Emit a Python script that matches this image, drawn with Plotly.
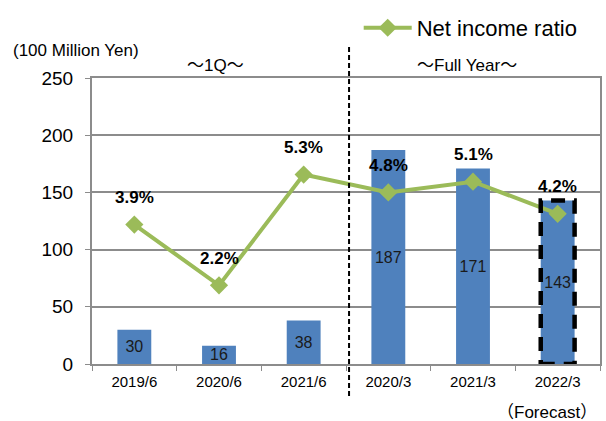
import plotly.graph_objects as go

categories = ["2019/6", "2020/6", "2021/6", "2020/3", "2021/3", "2022/3"]
net_income = [30, 16, 38, 187, 171, 143]
ratio = [3.9, 2.2, 5.3, 4.8, 5.1, 4.2]
ratio_labels = ["3.9%", "2.2%", "5.3%", "4.8%", "5.1%", "4.2%"]
y_ticks = [0, 50, 100, 150, 200, 250]

FONT = "Arial, Liberation Sans, sans-serif"
CJK = "Noto Sans CJK JP"
BAR = "#4F81BD"
GREEN = "#9BBB59"
GRID = "#8C8C8C"

def wave(s):
    return '<span style="font-family:%s">%s</span>' % (CJK, s)

fig = go.Figure()
fig.add_trace(go.Bar(
    x=categories, y=net_income, marker=dict(color=BAR, line=dict(width=0)),
    width=0.4, text=[str(v) for v in net_income], textposition="inside",
    insidetextanchor="middle", textangle=0, constraintext="none",
    textfont=dict(family=FONT, size=16, color="#1a1a1a"),
    showlegend=False, cliponaxis=False, hoverinfo="skip",
))
fig.add_trace(go.Scatter(
    x=categories, y=ratio, yaxis="y2", mode="lines+markers",
    line=dict(color=GREEN, width=4), marker=dict(symbol="diamond", size=14, color=GREEN),
    name="Net income ratio", hoverinfo="skip",
))
for c, r, lab in zip(categories, ratio, ratio_labels):
    fig.add_annotation(x=c, y=r, yref="y2", text="<b>%s</b>" % lab, showarrow=False,
                       yshift=27, font=dict(family=FONT, size=17, color="#000"))

# forecast dashed box around last bar
i_last = len(categories) - 1
fig.add_shape(type="rect", xref="x", yref="y", x0=i_last - 0.2, x1=i_last + 0.2,
              y0=0, y1=net_income[-1], line=dict(color="black", width=4.5, dash="14px,9px"),
              fillcolor="rgba(0,0,0,0)")
# divider
fig.add_shape(type="line", xref="paper", yref="paper", x0=0.506, x1=0.506, y0=-0.112, y1=1.108,
              line=dict(color="black", width=2, dash="5px,3px"))

fig.add_annotation(xref="paper", yref="paper", x=-0.16, y=1.095, xanchor="left", yanchor="middle",
                   text="(100 Million Yen)", showarrow=False, font=dict(family=FONT, size=17, color="#000"))
fig.add_annotation(xref="paper", yref="paper", x=0.243, y=1.052, xanchor="center", yanchor="middle",
                   text=wave("～") + "1Q" + wave("～"), showarrow=False,
                   font=dict(family=FONT, size=17, color="#000"))
fig.add_annotation(xref="paper", yref="paper", x=0.738, y=1.052, xanchor="center", yanchor="middle",
                   text=wave("～") + "Full Year" + wave("～"), showarrow=False,
                   font=dict(family=FONT, size=17, color="#000"))
fig.add_annotation(xref="paper", yref="paper", x=0.998, y=-0.163, xanchor="right", yanchor="middle",
                   text=wave("（") + "Forecast" + wave("）"), showarrow=False,
                   font=dict(family=FONT, size=17, color="#000"))

fig.update_layout(
    width=606, height=421, margin=dict(l=92, r=6, t=78, b=57, autoexpand=False),
    paper_bgcolor="white", plot_bgcolor="white",
    font=dict(family=FONT, color="#000"),
    bargap=0.6,
    xaxis=dict(type="category", tickson="boundaries", ticks="outside", ticklen=5, tickcolor=GRID,
               showline=True, linecolor=GRID, linewidth=2, mirror=True, ticklabelstandoff=3,
               tickfont=dict(family=FONT, size=15), showgrid=False),
    yaxis=dict(range=[0, 250], tickvals=y_ticks, ticks="outside", ticklen=5, tickcolor=GRID,
               showline=True, linecolor=GRID, linewidth=2, mirror=True, ticklabelstandoff=8,
               gridcolor=GRID, gridwidth=1.5, tickfont=dict(family=FONT, size=19), zeroline=False),
    yaxis2=dict(range=[0, 8], overlaying="y", side="right", visible=False),
    legend=dict(x=0.525, y=1.175, xanchor="left", yanchor="middle", bgcolor="rgba(0,0,0,0)",
                font=dict(family=FONT, size=22), itemwidth=48),
)

fig.write_html("out.html", config={"displayModeBar": False},
               post_script="document.body.style.margin='0';document.body.style.overflow='hidden';")
